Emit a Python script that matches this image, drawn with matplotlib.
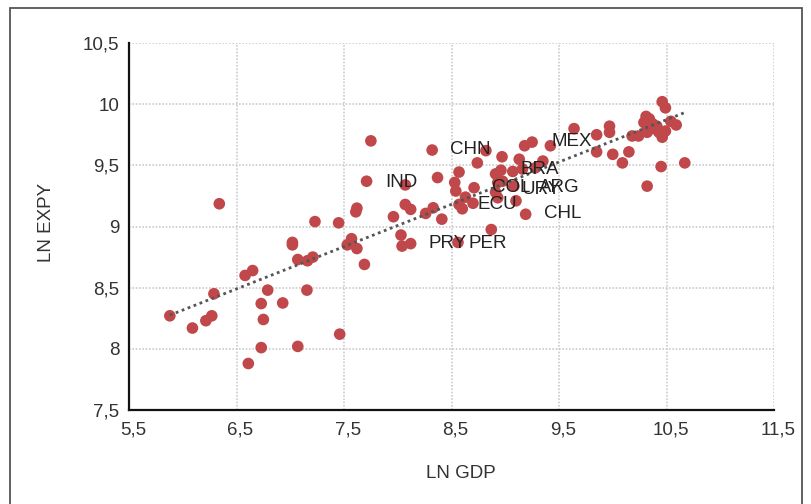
import numpy as np
import matplotlib
matplotlib.use("Agg")
import matplotlib.pyplot as plt
import matplotlib.transforms as mtransforms
from matplotlib.patches import Rectangle
from matplotlib.ticker import FuncFormatter

# ln GDP per capita vs ln EXPY
ln_gdp = [
    5.88, 6.09, 6.215, 6.27, 6.29, 6.34, 6.58, 6.65, 6.79, 6.73,
    6.75, 6.93, 6.73, 6.61, 7.02, 7.02, 7.07, 7.16, 7.21, 7.155,
    7.07, 7.23, 7.45, 7.46, 7.62, 7.61, 7.57, 7.53, 7.62, 7.69,
    7.71, 7.75, 8.07, 8.32, 8.37, 7.96, 8.07, 8.12, 8.26, 8.33,
    8.41, 8.03, 8.04, 8.12, 8.56, 8.87, 8.57, 8.53, 8.54, 8.57,
    8.60, 8.63, 8.71, 8.70, 8.74, 8.82, 8.91, 8.96, 8.93, 8.975,
    8.97, 9.07, 9.16, 8.91, 8.93, 9.10, 9.08, 9.19, 9.13, 9.18,
    9.25, 9.35, 9.28, 9.42, 9.64, 9.85, 9.85, 9.97, 9.97, 10.0,
    10.09, 10.15, 10.18, 10.24, 10.31, 10.34, 10.29, 10.37, 10.41, 10.43,
    10.49, 10.46, 10.40, 10.46, 10.49, 10.54, 10.59, 10.32, 10.32, 10.45,
    10.67, 10.32,
]
ln_expy = [
    8.27, 8.17, 8.23, 8.27, 8.45, 9.186, 8.60, 8.64, 8.48, 8.37,
    8.24, 8.375, 8.01, 7.88, 8.87, 8.85, 8.73, 8.72, 8.75, 8.48,
    8.02, 9.04, 9.03, 8.12, 9.15, 9.12, 8.90, 8.85, 8.82, 8.69,
    9.37, 9.70, 9.34, 9.625, 9.40, 9.08, 9.18, 9.14, 9.107, 9.153,
    9.06, 8.93, 8.84, 8.86, 8.87, 8.975, 9.445, 9.36, 9.29, 9.18,
    9.145, 9.24, 9.317, 9.19, 9.52, 9.62, 9.43, 9.46, 9.36, 9.37,
    9.57, 9.45, 9.47, 9.28, 9.235, 9.21, 9.33, 9.10, 9.55, 9.66,
    9.69, 9.535, 9.48, 9.66, 9.80, 9.75, 9.61, 9.82, 9.77, 9.59,
    9.52, 9.61, 9.74, 9.74, 9.90, 9.88, 9.85, 9.84, 9.82, 9.77,
    9.78, 9.73, 9.795, 10.02, 9.97, 9.86, 9.83, 9.80, 9.77, 9.49,
    9.52, 9.33,
]

# country tags and where their text sits
tags = ["CHN", "IND", "MEX", "BRA", "COL", "URY", "ARG", "ECU", "CHL", "PRY", "PER"]
tag_x = [8.49, 7.88, 9.43, 9.14, 8.88, 9.15, 9.31, 8.74, 9.36, 8.29, 8.66]
tag_y = [9.63, 9.36, 9.695, 9.463, 9.322, 9.30, 9.322, 9.177, 9.107, 8.863, 8.863]

x_ticks = [5.5, 6.5, 7.5, 8.5, 9.5, 10.5, 11.5]
y_ticks = [7.5, 8, 8.5, 9, 9.5, 10, 10.5]

plt.rcParams["font.family"] = ["Liberation Sans", "DejaVu Sans"]

fig = plt.figure(figsize=(8.11, 5.04), dpi=100)
ax = fig.add_axes([129 / 811, 1 - 410 / 504, 645 / 811, 367 / 504])

# frame around the whole picture
fig.patches.append(Rectangle((10 / 811, -0.05), 792 / 811, 1.05 - 8 / 504,
                             transform=fig.transFigure, fill=False,
                             edgecolor="#555555", linewidth=1.3))

ax.scatter(ln_gdp, ln_expy, s=70, color="#c0474a", edgecolors="none", zorder=3)

slope, icpt = np.polyfit(ln_gdp, ln_expy, 1)
xs = np.array([min(ln_gdp), max(ln_gdp)])
ax.plot(xs, slope * xs + icpt, color="#555555", linestyle=(0, (1, 1.3)),
        linewidth=2, zorder=4)

for name, tx, ty in zip(tags, tag_x, tag_y):
    ax.text(tx, ty, name, fontsize=13.5, color="#222222", ha="left", va="center",
            zorder=5)

ax.set_xlim(5.5, 11.5)
ax.set_ylim(7.5, 10.5)
ax.set_xticks(x_ticks)
ax.set_yticks(y_ticks)
comma = FuncFormatter(lambda v, p: f"{v:g}".replace(".", ","))
ax.xaxis.set_major_formatter(comma)
ax.yaxis.set_major_formatter(comma)
ax.tick_params(length=0, labelsize=13.5, labelcolor="#333333")
ax.tick_params(axis="x", pad=8)
ax.tick_params(axis="y", pad=7)

# x tick labels sit a few pixels right of their grid lines
shift = mtransforms.ScaledTranslation(4 / 100, 0, fig.dpi_scale_trans)
for lbl in ax.get_xticklabels():
    lbl.set_transform(lbl.get_transform() + shift)

ax.grid(True, color="#cccccc", linestyle=(0, (1, 1)), linewidth=1.2, zorder=0)
ax.set_axisbelow(True)
for side in ["top", "right"]:
    ax.spines[side].set_visible(False)
for side in ["left", "bottom"]:
    ax.spines[side].set_linewidth(1.6)
    ax.spines[side].set_color("#111111")
    ax.spines[side].set_zorder(6)

ax.set_xlabel("LN GDP", fontsize=13.5, color="#333333")
ax.set_ylabel("LN EXPY", fontsize=13.5, color="#333333")
ax.xaxis.label.set_va("center")
ax.yaxis.label.set_va("center")
ax.xaxis.set_label_coords(0.515, -0.172)
ax.yaxis.set_label_coords(-0.128, 0.512)

fig.savefig("out.png", dpi=100)
